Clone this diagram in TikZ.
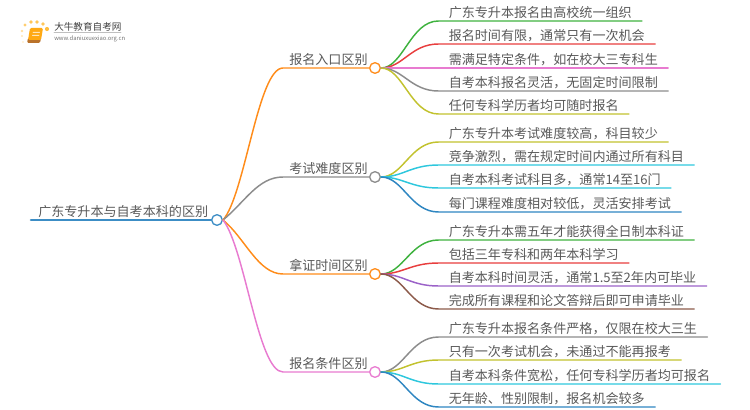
\documentclass[tikz,border=0pt]{standalone}
\usepackage{fontspec}
\setmainfont{Noto Sans CJK SC}
\usetikzlibrary{positioning}
\definecolor{myroot}{HTML}{3C8DC5}
\definecolor{myorange}{HTML}{FF8C1A}
\definecolor{mygray}{HTML}{8C8C8C}
\definecolor{mypink}{HTML}{E87BD0}
\definecolor{mygreen}{HTML}{3FB23F}
\definecolor{myred}{HTML}{E83E3E}
\definecolor{myolive}{HTML}{C2C22E}
\definecolor{mycyan}{HTML}{2EC7DD}
\definecolor{myblue}{HTML}{2E86C1}
\definecolor{mypurple}{HTML}{9B62C8}
\definecolor{mybrown}{HTML}{8C5A4A}
\definecolor{mytext}{HTML}{595959}
\begin{document}
\begin{tikzpicture}[x=0.75pt, y=-0.75pt,
                    line cap=round, line join=round,
                    textline/.style={anchor=south west, text=mytext, font=\fontsize{9.8}{12}\selectfont,
                                  text depth=0pt, inner ysep=2.6pt, inner xsep=7.5pt},
                    dot/.style={circle, draw, fill=white, line width=1pt, minimum size=8pt, inner sep=0pt},
                    twig/.style={line width=1.1pt}]
  \useasboundingbox (0,0) rectangle (750,410);

  % logo
  \foreach \px/\py/\r/\o in {25/25/1.6/.6, 31/22/1.9/.7, 37/22/1.9/.7, 43/24/1.9/.7, 47/29/2.1/.8,
                             22/31/1.4/.4, 22/36/1.2/.3, 23/42/1.1/.2}{
    \fill[myorange!70!yellow, opacity=\o] (\px,\py) circle (\r);
  }
  \fill[myorange!70!black!90, rounded corners=1pt] (28,38) -- (41,38) -- (40,43) -- (27,43) -- cycle;
  \fill[myorange!75!yellow, rounded corners=1pt] (30,28) -- (43,28) -- (41,40) -- (28,40) -- cycle;
  \fill[white, opacity=.7] (33,32) -- (40,32) -- (39.6,33) -- (32.6,33) -- cycle;
  \fill[white, opacity=.7] (32.4,35) -- (39.4,35) -- (39,36) -- (32,36) -- cycle;
  \node[anchor=west, inner sep=0pt, text=black!75, font=\fontsize{7.2}{9}\selectfont] (logotitle) at (54,27) {大牛教育自考网};
  \node[anchor=west, inner sep=0pt, text=black!55, font=\fontsize{4.4}{6}\selectfont] (logourl) at (54,38.5) {www.daniuxuexiao.org.cn};
  \draw[black!25, line width=.4pt] (logotitle.south west) ++(0,1) -- ++(67,0);

  % root
  \node[textline, inner xsep=5.25pt] (root) at (31,220) {广东专升本与自考本科的区别};
  \node[dot, draw=myroot] (rootdot) at (217,220) {};
  \draw[myroot, line width=1.9pt] (root.south west) -- (rootdot);

  % branches
  \foreach \name/\y/\col/\txt/\ca/\cb in {b1/68/myorange/报名入口区别/22/-25,
                                          b2/177/mygray/考试难度区别/22/-18,
                                          b3/274/myorange/拿证时间区别/22/18,
                                          b4/372/mypink/报名条件区别/22/28}{
    \node[textline, inner xsep=4.5pt] (\name) at (283,\y) {\txt};
    \node[dot, draw=\col] (\name dot) at (375,\y) {};
    \draw[\col, twig] (rootdot.east) .. controls +(\ca,\cb) and +(-25,0) .. (\name.south west) -- (\name dot);
  }

  % leaves
  \foreach \owner/\name/\y/\col/\txt in {
      b1/l11/21/mygreen/广东专升本报名由高校统一组织,
      b1/l12/44/myred/报名时间有限，通常只有一次机会,
      b1/l13/68/mypink/需满足特定条件，如在校大三专科生,
      b1/l14/91/mygray/自考本科报名灵活，无固定时间限制,
      b1/l15/114/myolive/任何专科学历者均可随时报名,
      b2/l21/142/myolive/广东专升本考试难度较高，科目较少,
      b2/l22/165/mycyan/竞争激烈，需在规定时间内通过所有科目,
      b2/l23/188/mycyan/自考本科考试科目多，通常14至16门,
      b2/l24/212/myblue/每门课程难度相对较低，灵活安排考试,
      b3/l31/240/mygreen/广东专升本需五年才能获得全日制本科证,
      b3/l32/263/myred/包括三年专科和两年本科学习,
      b3/l33/286/mypurple/自考本科时间灵活，通常1.5至2年内可毕业,
      b3/l34/309/mybrown/完成所有课程和论文答辩后即可申请毕业,
      b4/l41/337/mygray/广东专升本报名条件严格，仅限在校大三生,
      b4/l42/360/myolive/只有一次考试机会，未通过不能再报考,
      b4/l43/384/mycyan/自考本科条件宽松，任何专科学历者均可报名,
      b4/l44/407/myblue/无年龄、性别限制，报名机会较多}{
    \node[textline] (\name) at (438.5,\y) {\txt};
    \draw[\col, twig] (\owner dot.east) .. controls +(22,0) and +(-28,0) .. (\name.south west) -- (\name.south east);
  }
\end{tikzpicture}
\end{document}
